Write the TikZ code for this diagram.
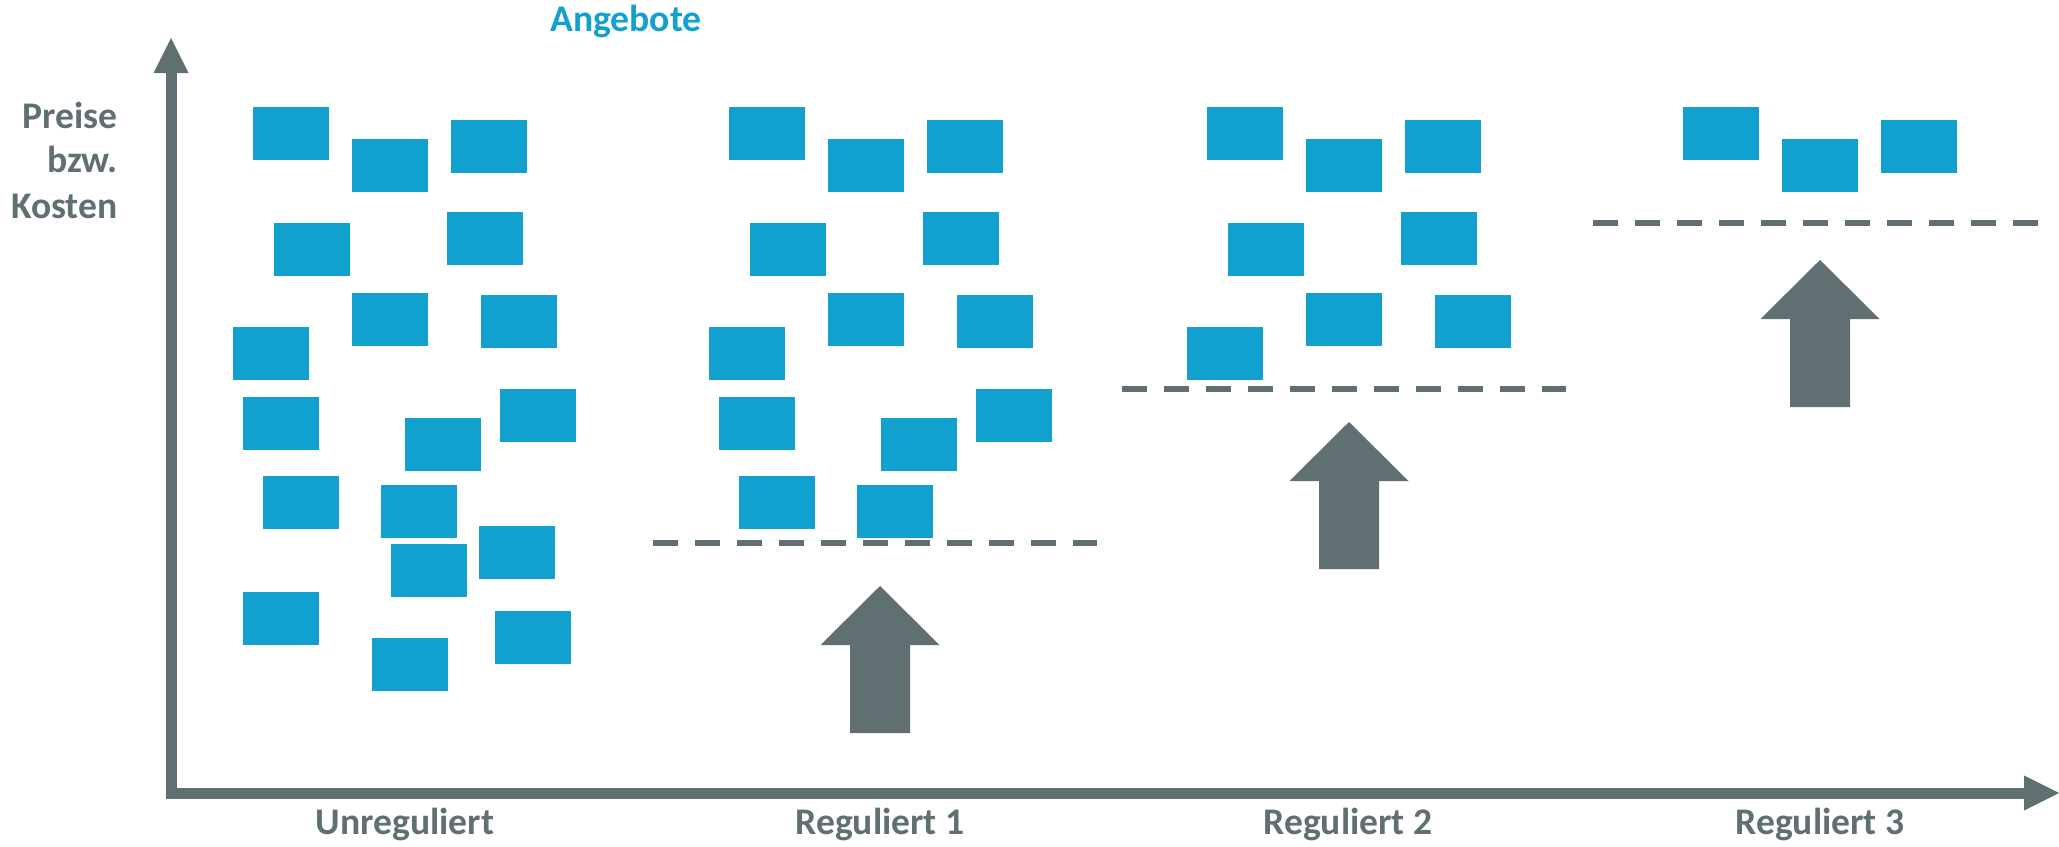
\documentclass[tikz,border=0pt]{standalone}
\usepackage{fontspec}
\setmainfont{Carlito}
\definecolor{axgray}{HTML}{5F6F72}
\definecolor{boxblue}{HTML}{12A1CF}
\begin{document}
\begin{tikzpicture}[x=0.5pt,y=-0.5pt,
  offer/.style={fill=boxblue, draw=none, minimum width=38pt, minimum height=26.5pt, inner sep=0pt},
  lbl/.style={font=\fontsize{18.8}{22}\selectfont\bfseries, text=axgray, anchor=base, inner sep=0pt},
  axisline/.style={draw=axgray, line width=5.5pt},
  level/.style={draw=axgray, line width=3pt, dash pattern=on 12.25pt off 8.75pt},
  bigarrow/.style={fill=axgray, draw=none}]
\useasboundingbox (0,0) rectangle (2059,846);
% axes
\coordinate (yb) at (171,798);
\coordinate (yt) at (171,73);
\coordinate (xl) at (166,793);
\coordinate (xr) at (2024,793);
\draw[axisline] (yb) -- (yt);
\fill[axgray] (153.5,73) -- (188.5,73) -- (171,38) -- cycle;
\draw[axisline] (xl) -- (xr);
\fill[axgray] (2024,775.5) -- (2024,810.5) -- (2059,793) -- cycle;
% texts
\node[lbl, text=boxblue] (ang) at (626,32) {Angebote};
\node[lbl, anchor=base east] (t1) at (118,128.5) {Preise};
\node[lbl, anchor=base east] (t2) at (118,172.5) {bzw.};
\node[lbl, anchor=base east] (t3) at (118,218) {Kosten};
\node[lbl] (l0) at (405,834) {Unreguliert};
\node[lbl] (l1) at (880,834) {Reguliert 1};
\node[lbl] (l2) at (1348,834) {Reguliert 2};
\node[lbl] (l3) at (1820,834) {Reguliert 3};
% offers
\foreach \n/\x/\y in {1/253/107, 2/352/139, 3/451/120, 4/274/223, 5/447/212, 6/352/293,
  7/481/295, 8/233/327, 9/243/397, 10/405/418, 11/500/389, 12/263/476, 13/381/485,
  14/391/544, 15/479/526, 16/243/592, 17/372/638, 18/495/611}{
  \node[offer] (u\n) at (\x+38,\y+26.5) {};
  \ifnum\n<14 \node[offer] (a\n) at (\x+513.5,\y+26.5) {};\fi
  \ifnum\n<9 \node[offer] (b\n) at (\x+992,\y+26.5) {};\fi
  \ifnum\n<4 \node[offer] (c\n) at (\x+1468,\y+26.5) {};\fi
}
% levels
\coordinate (d1l) at (653,543); \coordinate (d1r) at (1097,543);
\coordinate (d2l) at (1122,389); \coordinate (d2r) at (1566,389);
\coordinate (d3l) at (1593,223); \coordinate (d3r) at (2038,223);
\draw[level] (d1l) -- (d1r);
\draw[level] (d2l) -- (d2r);
\draw[level] (d3l) -- (d3r);
% big arrows
\foreach \cx/\ty in {880/586, 1349/422, 1820/260}{
  \fill[bigarrow] (\cx,\ty) -- (\cx+59.5,\ty+59) -- (\cx+30,\ty+59) -- (\cx+30,\ty+147)
    -- (\cx-30,\ty+147) -- (\cx-30,\ty+59) -- (\cx-59.5,\ty+59) -- cycle;
}
\end{tikzpicture}
\end{document}
